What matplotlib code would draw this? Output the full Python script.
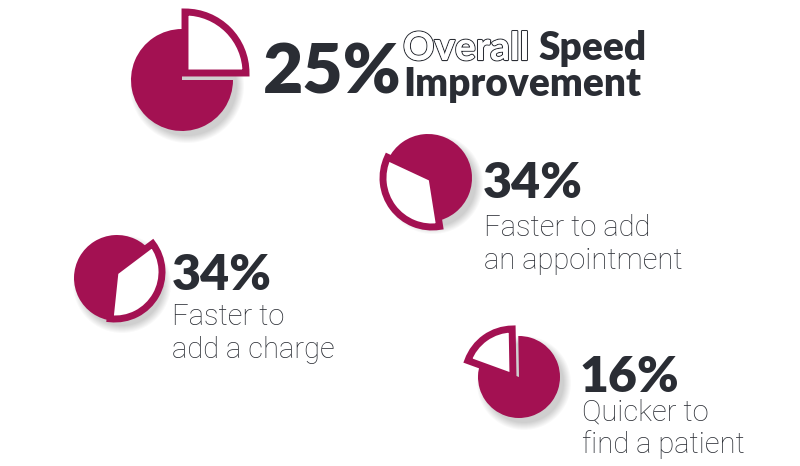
import matplotlib.pyplot as plt
from matplotlib.patches import Wedge, Circle
import matplotlib.patheffects as pe

MAGENTA = "#a31152"
DARK = "#2a2d34"

# pie geometry in pixel space (y up): centre, radius, cut-out wedge apex, wedge radius, angles
pie_centers = [(182, 386), (428, 288), (117, 188), (519, 89)]
pie_radius = [51, 44, 43, 41]
cut_apex = [(185, 393), (432, 288), (115, 194), (513, 89)]
cut_radius = [64, 52, 50, 51]
cut_angles = [(0, 90), (155, 279), (-96, 37), (91, 160)]

big_pct = ["25%", "34%", "34%", "16%"]
pct_pos = [(263, 373), (483, 268), (172, 176), (580, 74)]
pct_size = [50, 36, 36, 36]
labels = [None, ["Faster to add", "an appointment"], ["Faster to", "add a charge"], ["Quicker to", "find a patient"]]
label_pos = [None, (484, 230), (172, 141), (582, 46)]

fig = plt.figure(figsize=(8, 4.66), dpi=100)
ax = fig.add_axes([0, 0, 1, 1])
ax.set_xlim(0, 800)
ax.set_ylim(0, 466)
ax.set_aspect("equal")
ax.axis("off")

for (cx, cy), r, (ax_, ay), cr, (t1, t2) in zip(pie_centers, pie_radius, cut_apex, cut_radius, cut_angles):
    # soft shadow
    for k in range(8):
        ax.add_patch(Circle((cx + 5, cy - 6), r + 6 - k, color="black", alpha=0.025, lw=0, zorder=1))
    ax.add_patch(Wedge((cx, cy), r, t2, t1 + 360, color=MAGENTA, lw=0, zorder=2))
    ax.add_patch(Wedge((ax_, ay), cr - 3, t1, t2, facecolor="white", edgecolor=MAGENTA, lw=5, zorder=3))

for txt, (x, y), s in zip(big_pct, pct_pos, pct_size):
    ax.text(x, y, txt, fontsize=s, fontfamily="Lato", fontweight="heavy", color=DARK,
            ha="left", va="baseline", zorder=4)

# headline next to the big pie
t = ax.text(403, 406, "Overall", fontsize=28, fontfamily="Lato", fontweight="bold", color="white",
            ha="left", va="baseline", zorder=4)
t.set_path_effects([pe.withStroke(linewidth=1.6, foreground=DARK), pe.Normal()])
ax.text(538, 406, "Speed", fontsize=28, fontfamily="Lato", fontweight="heavy", color=DARK,
        ha="left", va="baseline", zorder=4)
ax.text(403, 370, "Improvement", fontsize=28, fontfamily="Lato", fontweight="heavy", color=DARK,
        ha="left", va="baseline", zorder=4)

for lines, pos in zip(labels, label_pos):
    if lines is None:
        continue
    x, y = pos
    for i, line in enumerate(lines):
        ax.text(x, y - i * 33, line, fontsize=21, fontfamily="Roboto", fontweight="light",
                color=DARK, ha="left", va="baseline", zorder=4)

fig.savefig("out.png", dpi=100, facecolor="white")
